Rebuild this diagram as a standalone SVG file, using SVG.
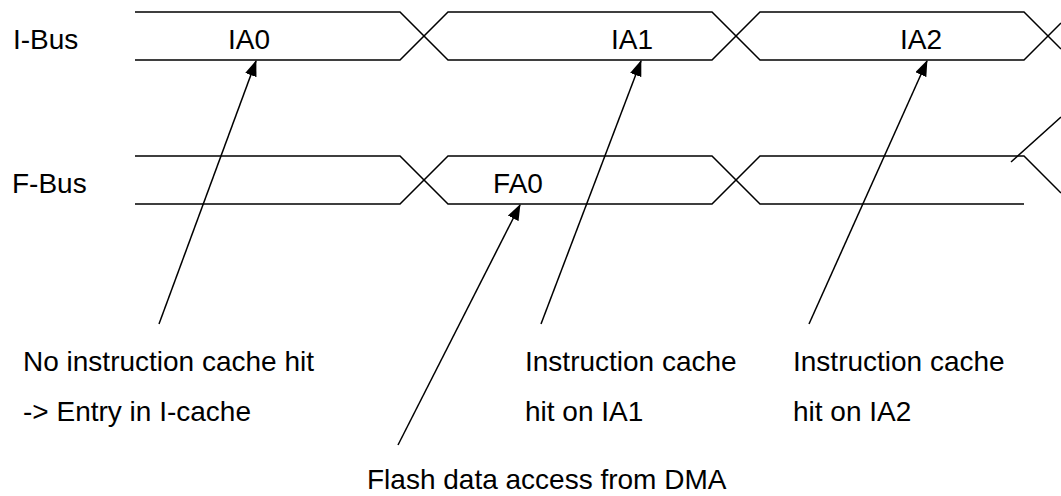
<svg xmlns="http://www.w3.org/2000/svg" width="1061" height="496" viewBox="0 0 1061 496">
<style>
text{font-family:"Liberation Sans",Arial,sans-serif;font-size:28px;fill:#000}
.bus{fill:none;stroke:#000;stroke-width:1.5}
.arr{fill:none;stroke:#000;stroke-width:1.5;marker-end:url(#ah)}
</style>
<defs>
<marker id="ah" markerWidth="16" markerHeight="12" refX="15" refY="6" orient="auto" markerUnits="userSpaceOnUse">
<path d="M0,0 L16,6 L0,12 Z" fill="#000"/>
</marker>
</defs>
<rect width="1061" height="496" fill="#fff"/>
<g id="ibus">
<text x="13" y="49">I-Bus</text>
<path class="bus" d="M135,12 H400 L448,60 H712 L760,12 H1024 L1061,49"/>
<path class="bus" d="M135,60 H400 L448,12 H712 L760,60 H1024 L1061,23"/>
<text x="249" y="49" text-anchor="middle">IA0</text>
<text x="632" y="49" text-anchor="middle">IA1</text>
<text x="921" y="49" text-anchor="middle">IA2</text>
</g>
<g id="fbus">
<text x="12" y="193">F-Bus</text>
<path class="bus" d="M135,156 H400 L448,204 H712 L760,156 H1024 L1061,193"/>
<path class="bus" d="M135,204 H400 L448,156 H712 L760,204 H1024"/>
<path class="bus" d="M1011,162 L1061,117"/>
<text x="518" y="193" text-anchor="middle">FA0</text>
</g>
<g id="connectors">
<path class="arr" d="M159,324 L256,61"/>
<path class="arr" d="M398,445 L520,205"/>
<path class="arr" d="M541,324 L641,61"/>
<path class="arr" d="M809,324 L927,61"/>
</g>
<g id="note-ia0">
<text x="23" y="371">No instruction cache hit</text>
<text x="23" y="421">-&gt; Entry in I-cache</text>
</g>
<g id="note-ia1">
<text x="525" y="371">Instruction cache</text>
<text x="525" y="421">hit on IA1</text>
</g>
<g id="note-ia2">
<text x="793" y="371">Instruction cache</text>
<text x="793" y="421">hit on IA2</text>
</g>
<g id="note-fa0">
<text x="367" y="489">Flash data access from DMA</text>
</g>
</svg>
